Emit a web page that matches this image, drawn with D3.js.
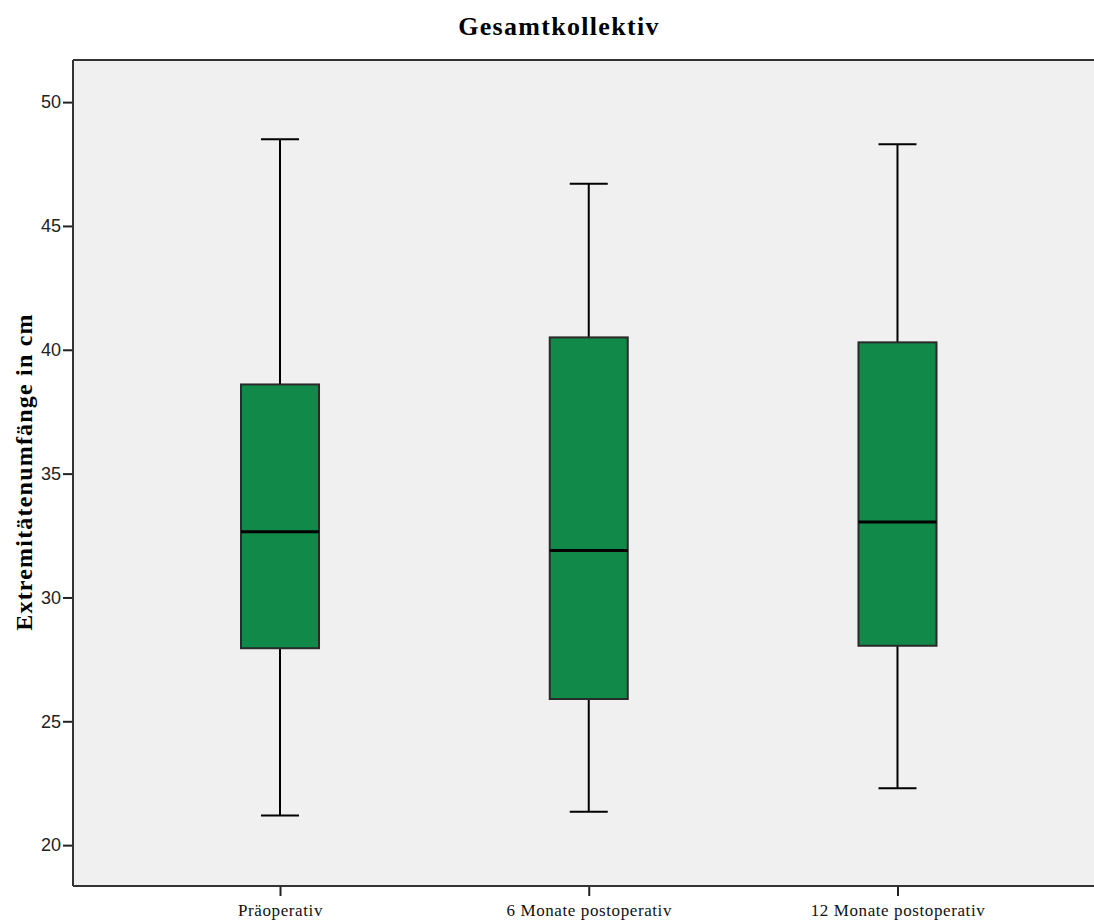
<!DOCTYPE html>
<html><head><meta charset="utf-8">
<script src="https://cdn.jsdelivr.net/npm/d3@7"></script>
<style>body{margin:0;background:#fff}svg{display:block}</style>
</head><body>
<script>
const categories = ["Präoperativ", "6 Monate postoperativ", "12 Monate postoperativ"];
const whiskerLow = [21.2, 21.35, 22.3];
const q1 = [27.95, 25.9, 28.05];
const median = [32.65, 31.9, 33.05];
const q3 = [38.6, 40.5, 40.3];
const whiskerHigh = [48.5, 46.7, 48.3];
const yTicks = [20, 25, 30, 35, 40, 45, 50];

const W = 1094, H = 920;
const m = {left: 73, top: 60, right: 1104.5, bottom: 886};
const svg = d3.select("body").append("svg").attr("width", W).attr("height", H);

const y = d3.scaleLinear().domain([18.35, 51.7]).range([m.bottom, m.top]);
const x = d3.scalePoint().domain(categories).range([m.left, m.right]).padding(0.6705);

svg.append("rect").attr("x", m.left).attr("y", m.top).attr("width", m.right - m.left).attr("height", m.bottom - m.top).attr("fill", "#f0f0f0");

svg.append("text").attr("x", 559).attr("y", 35).attr("text-anchor", "middle")
  .attr("font-family", "Liberation Serif, serif").attr("font-weight", "bold").attr("font-size", 26)
  .attr("letter-spacing", 1.3)
  .text("Gesamtkollektiv");

svg.append("text").attr("transform", "translate(32,472) rotate(-90)").attr("text-anchor", "middle")
  .attr("font-family", "Liberation Serif, serif").attr("font-weight", "bold").attr("font-size", 24)
  .attr("letter-spacing", 1.2)
  .text("Extremitätenumfänge in cm");

const yAxis = svg.append("g").attr("transform", `translate(${m.left},0)`)
  .call(d3.axisLeft(y).tickValues(yTicks).tickSize(10).tickPadding(2));
yAxis.select(".domain").remove();
yAxis.selectAll("line").attr("stroke", "#222").attr("stroke-width", 2);
yAxis.selectAll("text").attr("font-family", "Liberation Sans, sans-serif").attr("font-size", 18).attr("fill", "#222");

const xAxis = svg.append("g").attr("transform", `translate(0,${m.bottom})`)
  .call(d3.axisBottom(x).tickSize(10).tickPadding(8));
xAxis.select(".domain").remove();
xAxis.selectAll("line").attr("stroke", "#222").attr("stroke-width", 2);
xAxis.selectAll("text").attr("font-family", "Liberation Serif, serif").attr("font-size", 17).attr("fill", "#111")
  .attr("letter-spacing", 0.6);

// frame
svg.append("line").attr("x1", m.left).attr("x2", m.left).attr("y1", m.top).attr("y2", m.bottom).attr("stroke", "#333").attr("stroke-width", 2);
svg.append("line").attr("x1", m.left).attr("x2", W).attr("y1", m.bottom).attr("y2", m.bottom).attr("stroke", "#333").attr("stroke-width", 2);
svg.append("line").attr("x1", m.left).attr("x2", W).attr("y1", m.top).attr("y2", m.top).attr("stroke", "#333").attr("stroke-width", 2);

const bw = 78, cw = 38;
categories.forEach((c, i) => {
  const cx = x(c);
  const g = svg.append("g");
  g.append("line").attr("x1", cx).attr("x2", cx).attr("y1", y(whiskerHigh[i])).attr("y2", y(q3[i])).attr("stroke", "#000").attr("stroke-width", 2);
  g.append("line").attr("x1", cx).attr("x2", cx).attr("y1", y(q1[i])).attr("y2", y(whiskerLow[i])).attr("stroke", "#000").attr("stroke-width", 2);
  g.append("line").attr("x1", cx - cw/2).attr("x2", cx + cw/2).attr("y1", y(whiskerHigh[i])).attr("y2", y(whiskerHigh[i])).attr("stroke", "#000").attr("stroke-width", 2);
  g.append("line").attr("x1", cx - cw/2).attr("x2", cx + cw/2).attr("y1", y(whiskerLow[i])).attr("y2", y(whiskerLow[i])).attr("stroke", "#000").attr("stroke-width", 2);
  g.append("rect").attr("x", cx - bw/2).attr("y", y(q3[i])).attr("width", bw).attr("height", y(q1[i]) - y(q3[i]))
    .attr("fill", "#118a49").attr("stroke", "#2a2a2a").attr("stroke-width", 2);
  g.append("line").attr("x1", cx - bw/2).attr("x2", cx + bw/2).attr("y1", y(median[i])).attr("y2", y(median[i])).attr("stroke", "#000").attr("stroke-width", 3);
});
</script>
</body></html>
